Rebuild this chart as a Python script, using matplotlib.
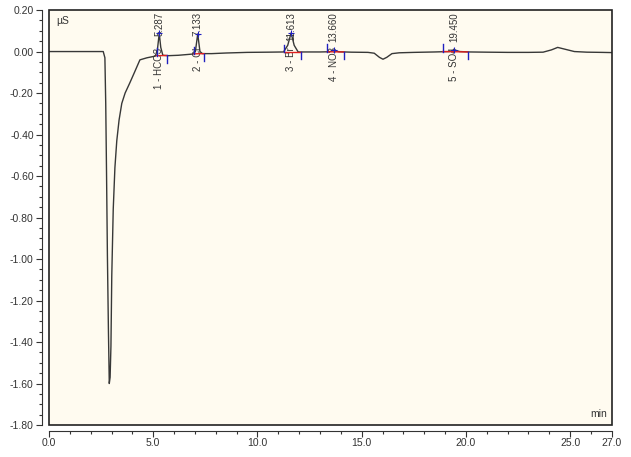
import matplotlib
matplotlib.use("Agg")
import matplotlib.pyplot as plt
from matplotlib.patches import Rectangle
from matplotlib.ticker import MultipleLocator, FixedLocator

plt.rcParams['font.family'] = ['Liberation Sans', 'DejaVu Sans']

# chromatogram trace (min, uS)
times = [0.0, 1.0, 2.0, 2.60, 2.68, 2.72, 2.76, 2.80, 2.85, 2.89, 2.93, 2.97,
         3.01, 3.08, 3.16, 3.25, 3.36, 3.49, 3.65, 3.88, 4.10, 4.36, 4.70,
         5.10, 5.20, 5.287, 5.36, 5.46, 5.70, 6.20, 6.90, 7.02, 7.133, 7.24,
         7.36, 7.80, 8.5, 9.5, 10.5, 11.25, 11.45, 11.613, 11.76, 11.95, 12.3,
         13.0, 13.45, 13.66, 13.9, 14.5, 15.3, 15.6, 15.85, 16.02, 16.2, 16.45,
         16.8, 17.5, 18.5, 19.2, 19.45, 19.7, 20.2, 21.0, 22.0, 23.0, 23.7,
         24.1, 24.4, 24.8, 25.2, 25.8, 26.5, 27.0]
signal = [0.0, 0.0, 0.0, 0.0, -0.03, -0.25, -0.60, -0.98, -1.35, -1.60, -1.57, -1.42,
          -1.08, -0.76, -0.56, -0.43, -0.33, -0.25, -0.20, -0.15, -0.10, -0.04, -0.03,
          -0.022, 0.01, 0.088, 0.02, -0.018, -0.02, -0.018, -0.012, 0.0, 0.085, 0.0,
          -0.01, -0.01, -0.007, -0.004, -0.003, -0.002, 0.03, 0.09, 0.03, -0.002, -0.002,
          -0.002, -0.001, 0.006, -0.001, -0.003, -0.004, -0.008, -0.028, -0.037, -0.028, -0.01,
          -0.006, -0.004, -0.002, 0.0, 0.008, 0.0, -0.002, -0.003, -0.004, -0.004, -0.003,
          0.008, 0.02, 0.01, 0.0, -0.003, -0.004, -0.005]

# integrated peaks
peak_rt = [5.287, 7.133, 11.613, 13.660, 19.450]
peak_apex = [0.088, 0.085, 0.09, 0.006, 0.008]
peak_names = ["1 - HCO3", "2 - Cl", "3 - Br", "4 - NO3", "5 - SO4"]
peak_start = [5.16, 6.95, 11.27, 13.35, 18.88]
peak_end = [5.64, 7.43, 12.07, 14.15, 20.10]
base_start = [-0.02, -0.011, -0.002, -0.001, 0.0]
base_end = [-0.019, -0.01, -0.002, -0.002, -0.002]

fig = plt.figure(figsize=(6.31, 4.57), dpi=100)
ax = fig.add_axes([0.0777, 0.0700, 0.892, 0.908])
ax.set_facecolor('#fffbf0')

ax.plot(times, signal, color='#383838', lw=1.0, zorder=3)

for i in range(len(peak_rt)):
    ax.plot([peak_start[i], peak_end[i]], [base_start[i], base_end[i]],
            color='#e02020', lw=1.0, zorder=4)
    ax.plot([peak_start[i], peak_start[i]], [base_start[i], base_start[i] + 0.035],
            color='#2020c0', lw=1.0, zorder=4)
    ax.plot([peak_end[i], peak_end[i]], [base_end[i], base_end[i] - 0.035],
            color='#2020c0', lw=1.0, zorder=4)
    ax.plot([peak_rt[i]], [peak_apex[i]], marker='+', color='#2020c0', ms=4, mew=0.8, zorder=5)
    ax.text(peak_rt[i], 0.19, "%.3f" % peak_rt[i], rotation=90, ha='center', va='top',
            fontsize=7, color='#333333', zorder=2)
    ax.text(peak_rt[i], 0.02, peak_names[i], rotation=90, ha='center', va='top',
            fontsize=7, color='#333333', zorder=2)

ax.set_xlim(0, 27)
ax.set_ylim(-1.8, 0.2)

ax.xaxis.set_major_locator(FixedLocator([0, 5, 10, 15, 20, 25, 27]))
ax.xaxis.set_minor_locator(MultipleLocator(1))
ax.yaxis.set_major_locator(MultipleLocator(0.2))
ax.yaxis.set_minor_locator(MultipleLocator(0.05))
ax.set_xticklabels(["0.0", "5.0", "10.0", "15.0", "20.0", "25.0", "27.0"])
ax.set_yticklabels(["%.2f" % v for v in ax.get_yticks()])
ax.set_ylim(-1.8, 0.2)

for side in ['top', 'right']:
    ax.spines[side].set_visible(False)
ax.spines['left'].set_position(('outward', 5))
ax.spines['bottom'].set_position(('outward', 4))
ax.spines['left'].set_color('#333333')
ax.spines['bottom'].set_color('#333333')
ax.tick_params(which='major', length=4, width=0.8, labelsize=7.5, colors='#333333', pad=2)
ax.tick_params(axis='x', which='major', pad=1)
ax.tick_params(which='minor', length=2.5, width=0.8, colors='#333333')

ax.add_patch(Rectangle((0, 0), 1, 1, transform=ax.transAxes, fill=False,
                       ec='#222222', lw=1.2, clip_on=False, zorder=6))

ax.text(0.012, 0.985, "µS", transform=ax.transAxes, ha='left', va='top',
        fontsize=7.5, color='#333333')
ax.text(0.992, 0.015, "min", transform=ax.transAxes, ha='right', va='bottom',
        fontsize=7.5, color='#333333')

plt.savefig("out.png", dpi=100)
